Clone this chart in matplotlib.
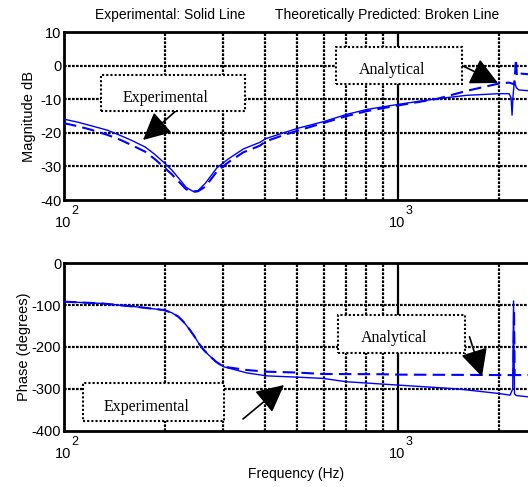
import numpy as np
import matplotlib
matplotlib.use("Agg")
import matplotlib.pyplot as plt
from matplotlib.patches import Rectangle

plt.rcParams['font.family'] = ['Liberation Sans', 'DejaVu Sans']

# magnitude, experimental (solid)
mag_exp_f = [100, 110, 120, 135, 147, 160, 175, 187, 198, 210, 220, 232, 243, 252, 265, 287,
             310, 344, 386, 402, 450, 502, 600, 700, 807, 1000, 1150, 1315, 1600, 2000, 2150,
             2180, 2195, 2210, 2230, 2260, 2300, 2450]
mag_exp_v = [-15.9, -16.8, -17.8, -19.2, -20.7, -22.3, -24.2, -26.4, -28.6, -31.0, -33.4, -36.2,
             -37.4, -37.2, -35.0, -30.4, -27.8, -24.8, -22.8, -21.7, -20.1, -18.6, -16.6, -14.5,
             -13.0, -11.5, -10.6, -9.8, -8.8, -8.3, -8.3, -9.5, -14.7, -9.0, -4.5, -6.5, -7.2,
             -7.4]
# magnitude, theoretical (broken)
mag_th_f = [100, 110, 120, 135, 147, 160, 175, 187, 198, 210, 220, 232, 243, 252, 265, 287,
            310, 344, 386, 402, 450, 502, 600, 700, 807, 1000, 1150, 1315, 1600, 2000, 2150,
            2230, 2255, 2270, 2290, 2330, 2450]
mag_th_v = [-17.1, -18.0, -19.0, -20.6, -22.0, -23.7, -25.6, -27.8, -30.0, -32.3, -34.4, -36.8,
            -37.6, -37.4, -36.0, -31.5, -28.8, -25.8, -23.8, -22.5, -20.8, -19.3, -17.0, -15.0,
            -13.5, -11.8, -10.8, -9.8, -7.5, -5.3, -5.0, -5.5, 2.0, -3.0, -2.2, -2.3, -2.5]

# phase, experimental (solid)
ph_exp_f = [100, 130, 163, 199, 210, 220, 228, 236, 245, 253, 262, 271, 285, 300, 353, 405, 498,
            596, 700, 1000, 1313, 1500, 2000, 2165, 2205, 2218, 2232, 2260, 2450]
ph_exp_v = [-91.7, -96, -103.6, -111.6, -118, -127.6, -140, -155, -173, -191, -207, -219, -235,
            -247, -262, -269, -272, -275, -283, -291, -297, -300, -311, -315, -300, -90, -312,
            -316, -319]
# phase, theoretical (broken)
ph_th_f = [100, 130, 163, 199, 210, 220, 228, 236, 245, 253, 262, 271, 285, 300, 353, 405, 498,
           596, 885, 1000, 2000, 2215, 2225, 2235, 2450]
ph_th_v = [-91.7, -96, -103.6, -111.6, -118, -127.6, -140, -155, -173, -191, -207, -219, -235,
           -247, -255, -259, -261, -264.5, -265, -266, -267, -267, -110, -267, -267]

xmin, xmax = 100, 2450
grid_x = [200, 300, 400, 500, 600, 700, 800, 900, 2000]

fig = plt.figure(figsize=(5.28, 4.87), dpi=100)
W, H = 528.0, 487.0


def setup(ax, ylim, yticks, ylabel):
    ax.set_xscale('log')
    ax.set_xlim(xmin, xmax)
    ax.set_ylim(*ylim)
    ax.set_yticks(yticks)
    ax.set_yticklabels([str(t) for t in yticks], fontsize=10.5)
    ax.set_xticks([])
    ax.minorticks_off()
    ax.tick_params(axis='y', length=0, pad=2)
    for t in yticks[1:-1]:
        ax.axhline(t, color='k', lw=1.6, ls=(0, (1.2, 0.6)), zorder=1)
    for gx in grid_x:
        ax.axvline(gx, color='k', lw=1.6, ls=(0, (1.2, 0.6)), zorder=1)
    ax.axvline(1000, color='k', lw=1.6, zorder=1)
    for s in ['left', 'bottom', 'top']:
        ax.spines[s].set_linewidth(2)
    ax.spines['right'].set_visible(False)
    ax.set_ylabel(ylabel, fontsize=10.5)
    for x0, e in [(100, '2'), (1000, '3')]:
        ax.text(x0 * 0.995, -0.14, '10', transform=ax.get_xaxis_transform(), ha='center',
                va='center', fontsize=10.5)
        ax.text(x0 * 1.08, -0.066, e, transform=ax.get_xaxis_transform(), ha='center',
                va='center', fontsize=9)


def box(x0, y0, x1, y1, label, tx, ty):
    # coordinates in figure pixels from the top-left corner
    r = Rectangle((x0 / W, 1 - y1 / H), (x1 - x0) / W, (y1 - y0) / H, transform=fig.transFigure,
                  facecolor='white', edgecolor='k', lw=1.5, ls=(0, (1, 1)), zorder=5)
    fig.patches.append(r)
    fig.text(tx / W, 1 - ty / H, label, ha='center', va='center', fontsize=11.5,
             family='Liberation Serif', zorder=6)


def arrow(x0, y0, x1, y1):
    plt.annotate('', xy=(x1 / W, 1 - y1 / H), xytext=(x0 / W, 1 - y0 / H),
                 xycoords='figure fraction', textcoords='figure fraction',
                 arrowprops=dict(arrowstyle='-|>,head_length=1.0,head_width=0.5',
                                 mutation_scale=17, color='k', lw=1.2, shrinkA=0, shrinkB=0))


ax1 = fig.add_axes([64 / W, 1 - 200 / H, (W - 64) / W, 167.7 / H])
setup(ax1, (-40, 10), [-40, -30, -20, -10, 0, 10], 'Magnitude dB')
ax1.plot(mag_exp_f, mag_exp_v, color='blue', lw=1.0, zorder=3)
ax1.plot(mag_th_f, mag_th_v, color='blue', lw=1.5, ls=(0, (6, 3)), zorder=3)
ax1.yaxis.set_label_coords(-0.06, 0.5)

ax2 = fig.add_axes([64 / W, 1 - 430.7 / H, (W - 64) / W, 167.4 / H])
setup(ax2, (-400, 0), [-400, -300, -200, -100, 0], 'Phase (degrees)')
ax2.plot(ph_exp_f, ph_exp_v, color='blue', lw=1.0, zorder=3)
ax2.plot(ph_th_f, ph_th_v, color='blue', lw=1.5, ls=(0, (6, 3)), zorder=3)
ax2.yaxis.set_label_coords(-0.072, 0.5)
ax2.set_xlabel('Frequency (Hz)', fontsize=10, labelpad=26)

fig.text(170 / W, 1 - 15 / H, 'Experimental: Solid Line', ha='center', va='center', fontsize=10)
fig.text(387 / W, 1 - 15 / H, 'Theoretically Predicted: Broken Line', ha='center', va='center',
         fontsize=10)

box(101, 75, 245, 110.7, 'Experimental', 166, 98)
arrow(178, 109, 143, 140)
box(335.7, 46.7, 462, 84, 'Analytical', 392, 70)
arrow(463, 66, 498, 83)

box(82.5, 382.7, 224, 420.7, 'Experimental', 147, 406.7)
arrow(243, 419, 284, 385)
box(337.7, 315, 464.6, 353.3, 'Analytical', 394, 337.7)
arrow(469.5, 336.7, 482, 376.7)

fig.savefig('out.png', dpi=100)
